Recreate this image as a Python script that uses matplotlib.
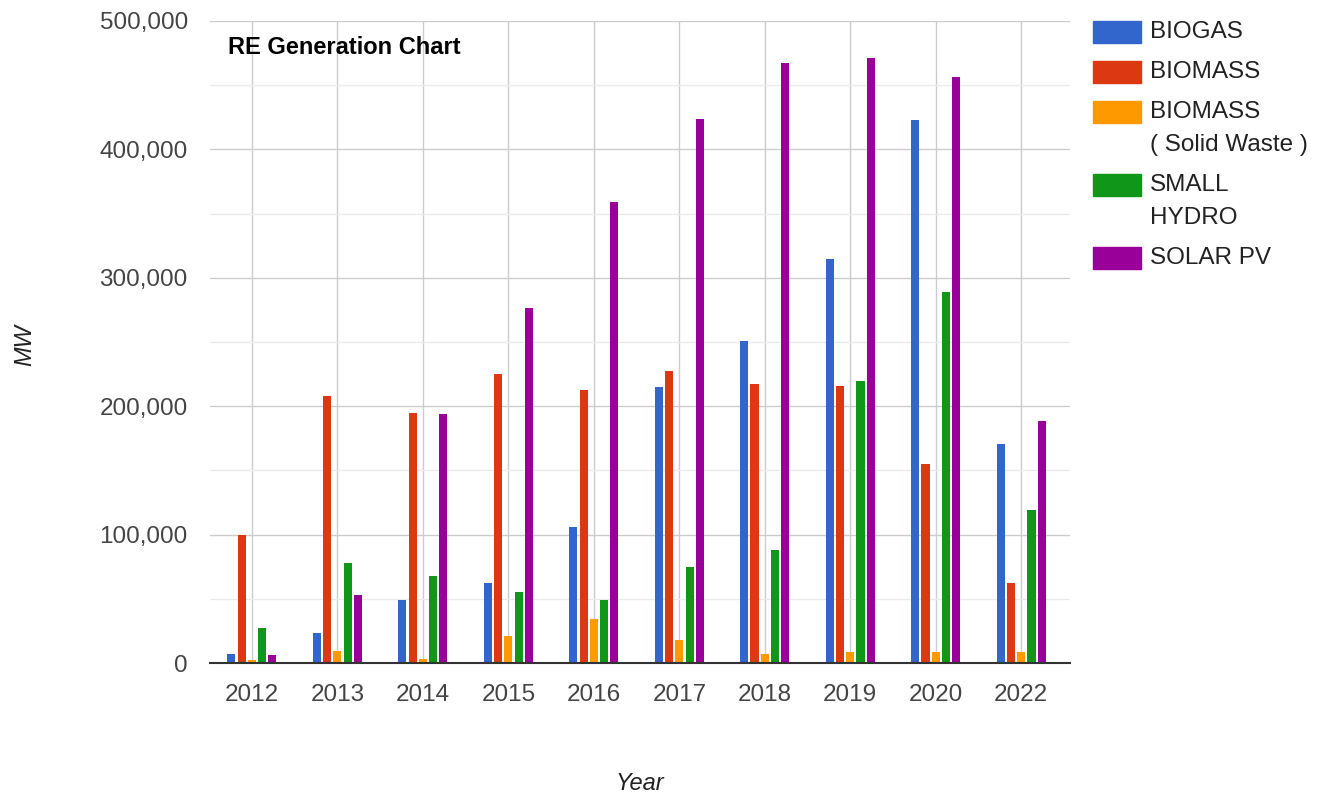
import numpy as np
import matplotlib
matplotlib.use("Agg")
import matplotlib.pyplot as plt
from matplotlib.patches import Rectangle
from matplotlib.ticker import FuncFormatter, MultipleLocator

plt.rcParams["font.family"] = ["Liberation Sans", "DejaVu Sans"]

# -----------------------------------
# Data (MW)
# -----------------------------------
years = ["2012", "2013", "2014", "2015", "2016", "2017", "2018", "2019", "2020", "2022"]
series_names = ["BIOGAS", "BIOMASS", "BIOMASS\n( Solid Waste )", "SMALL\nHYDRO", "SOLAR PV"]
biogas = [7000, 23000, 49000, 62500, 105700, 215000, 250500, 314400, 423000, 170600]
biomass = [100000, 208000, 195000, 224800, 212600, 227700, 217000, 215700, 154700, 62300]
biomass_solid = [2000, 9600, 3000, 21000, 34000, 18000, 7000, 8500, 8500, 8500]
small_hydro = [27000, 77600, 68000, 55500, 49000, 74800, 88000, 219600, 288700, 119400]
solar_pv = [6000, 53000, 193700, 276500, 358800, 424000, 467500, 471400, 456400, 188700]
colors = ["#3366cc", "#dc3912", "#ff9900", "#109618", "#990099"]

all_series = [biogas, biomass, biomass_solid, small_hydro, solar_pv]

# -----------------------------------
# Figure
# -----------------------------------
fig = plt.figure(figsize=(13.21, 7.94), dpi=100)
ax = fig.add_axes([210 / 1321, 1 - 663 / 794, 860 / 1321, 642 / 794])

x = np.arange(len(years))
step = 0.12
width = 0.095
for i, (vals, c) in enumerate(zip(all_series, colors)):
    ax.bar(x + (i - 2) * step, vals, width=width, color=c, zorder=3)

ax.set_xlim(-0.49, 9.57)
ax.set_ylim(0, 500000)
ax.yaxis.set_major_locator(MultipleLocator(100000))
ax.yaxis.set_minor_locator(MultipleLocator(50000))
ax.yaxis.set_major_formatter(FuncFormatter(lambda v, p: f"{int(v):,}"))
ax.set_xticks(x)
ax.set_xticklabels(years)

ax.grid(axis="y", which="major", color="#cccccc", linewidth=1.0, zorder=0)
ax.grid(axis="y", which="minor", color="#ebebeb", linewidth=1.0, zorder=0)
ax.grid(axis="x", which="major", color="#cccccc", linewidth=1.0, zorder=0)

for s in ["top", "right", "left"]:
    ax.spines[s].set_visible(False)
ax.spines["bottom"].set_color("#333333")
ax.spines["bottom"].set_linewidth(1.5)
ax.spines["bottom"].set_zorder(4)

ax.tick_params(axis="both", which="both", length=0, labelsize=17.5, labelcolor="#444444")
ax.tick_params(axis="y", pad=16)
ax.tick_params(axis="x", pad=15)

ax.text(228 / 860 - 210 / 860, 1 - (47 - 21) / 642, "RE Generation Chart",
        transform=ax.transAxes, fontsize=17, fontweight="bold", color="#000000",
        ha="left", va="center", zorder=5)

fig.text(25 / 1321, 1 - 345 / 794, "MW", rotation=90, fontsize=17, style="italic",
         color="#222222", ha="center", va="center")
fig.text(640 / 1321, 1 - 783 / 794, "Year", fontsize=17, style="italic",
         color="#222222", ha="center", va="center")

# -----------------------------------
# Legend (drawn by hand, handle aligned with first line)
# -----------------------------------
y_px = 32
for name, c in zip(series_names, colors):
    lines = name.split("\n")
    fig.add_artist(Rectangle((1093 / 1321, 1 - (y_px + 11) / 794), 48 / 1321, 22 / 794,
                             transform=fig.transFigure, color=c))
    for k, line in enumerate(lines):
        fig.text(1150 / 1321, 1 - (y_px + k * 33) / 794, line, fontsize=17.5,
                 color="#222222", ha="left", va="center")
    y_px += 40 + 33 * (len(lines) - 1)

fig.savefig("out.png", dpi=100)
